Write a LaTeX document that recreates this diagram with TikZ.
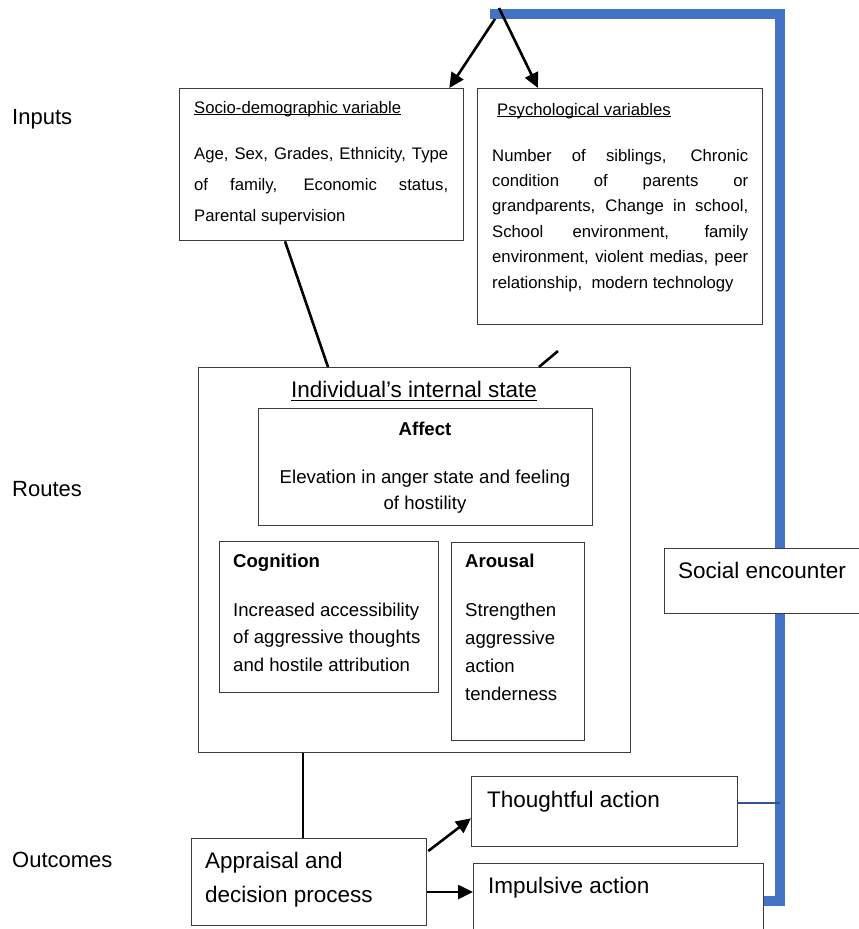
\documentclass[tikz,border=0pt]{standalone}
\usepackage{fontspec}
\setmainfont{Liberation Sans}
\usetikzlibrary{arrows.meta,calc}
\definecolor{blueline}{HTML}{4472C4}
\definecolor{thinblue}{HTML}{2F5597}
\definecolor{boxgray}{HTML}{3C3C3C}
\newcommand\myul[2][2.2pt]{\setbox0\hbox{#2}\rlap{\rule[-#1]{\wd0}{0.9pt}}\box0}
\newcommand\jl[2]{\makebox[#1][s]{#2}}
\newcommand\sz[2]{\fontsize{#1}{#2}\selectfont}
\begin{document}
\begin{tikzpicture}[x=1pt,y=-1pt,
  box/.style={draw=boxgray, line width=1.3pt, fill=white, inner sep=0pt, anchor=north west},
  conn/.style={line width=2.6pt, black},
  arr/.style={conn, -{Triangle[length=15pt,width=14pt]}},
  txt/.style={inner sep=0pt, anchor=base west},
  ctxt/.style={inner sep=0pt, anchor=base}]
\useasboundingbox (0,0) rectangle (859,929);
\clip (0,0) rectangle (859,929);
\fill[white] (0,0) rectangle (859,929);

% position helper for the blue loop end
\node[box, draw=none, fill=none, minimum width=290pt, minimum height=100pt] (impulsivepos) at (473,863) {};
\coordinate (btop) at (490,14);
% blue feedback loop
\draw[blueline, line width=10pt] (impulsivepos.east |- 0,901) -- (780,901) -- (780,14) -- (btop);

\node[box, minimum width=284pt, minimum height=152pt] (socio) at (179,88) {};
\node[box, minimum width=285pt, minimum height=236pt] (psych) at (477,88) {};
\node[box, minimum width=432pt, minimum height=385pt] (internal) at (198,367) {};
\node[box, minimum width=334pt, minimum height=117pt] (affect) at (258,408) {};
\node[box, minimum width=219pt, minimum height=151pt] (cognition) at (219,541) {};
\node[box, minimum width=133pt, minimum height=198pt] (arousal) at (451,542) {};
\node[box, minimum width=235pt, minimum height=87pt] (appraisal) at (191,838) {};
\node[box, minimum width=266pt, minimum height=70pt] (thought) at (471,776) {};
\node[box, minimum width=290pt, minimum height=100pt] (impulsive) at (473,863) {};
\node[box, minimum width=220pt, minimum height=65pt] (social) at (664,548) {};

% thin blue link
\draw[thinblue, line width=1.3pt] (thought.east |- 0,803) -- (780,803);

% side labels
\node[txt, font=\sz{22}{26}] (linputs) at (12,124) {Inputs};
\node[txt, font=\sz{22}{26}] (lroutes) at (12,496) {Routes};
\node[txt, font=\sz{22}{26}] (loutcomes) at (12,867) {Outcomes};

% socio-demographic
\node[txt, font=\sz{16.7}{20}] (sociot) at (194,113) {\myul{Socio-demographic variable}};
\node[txt] (sociob) at (194,159) {\parbox[t]{254pt}{\sz{16.7}{31}%
\jl{254pt}{Age, Sex, Grades, Ethnicity, Type}\\
\jl{254pt}{of family, Economic status,}\\
Parental supervision}};

% psychological
\node[txt, font=\sz{16.7}{20}] (psycht) at (497,115) {\myul{Psychological variables}};
\node[txt] (psychb) at (492,161) {\parbox[t]{256pt}{\sz{16.7}{25.4}%
\jl{256pt}{Number of siblings, Chronic}\\
\jl{256pt}{condition of parents or}\\
\jl{256pt}{grandparents, Change in school,}\\
\jl{256pt}{School environment, family}\\
\jl{256pt}{environment, violent medias, peer}\\
relationship,\ \ modern technology}};

% internal state
\node[ctxt, font=\sz{22.5}{26}] (internalt) at (414,397) {\myul[3.5pt]{Individual’s internal state}};
\node[ctxt, font=\sz{18.6}{22}\bfseries] (affectt) at (425,435) {Affect};
\node[ctxt] (affectb) at (425,483) {\parbox[t]{320pt}{\centering\sz{18.6}{26}%
Elevation in anger state and feeling\\ of hostility}};
\node[txt, font=\sz{18.6}{22}\bfseries] (cognitiont) at (233,567) {Cognition};
\node[txt] (cognitionb) at (233,616) {\parbox[t]{200pt}{\sz{18.6}{27.5}%
Increased accessibility\\ of aggressive thoughts\\ and hostile attribution}};
\node[txt, font=\sz{18.6}{22}\bfseries] (arousalt) at (465,567) {Arousal};
\node[txt] (arousalb) at (465,616) {\parbox[t]{115pt}{\sz{18.6}{28}%
Strengthen\\ aggressive\\ action\\ tenderness}};

% outcomes
\node[txt] (appraisalt) at (205,868) {\parbox[t]{215pt}{\sz{22.5}{34}%
Appraisal and\\ decision process}};
\node[txt, font=\sz{22.5}{26}] (thoughtt) at (487,807) {Thoughtful action};
\node[txt, font=\sz{22.5}{26}] (impulsivet) at (488,893) {Impulsive action};
\node[txt, font=\sz{22.5}{26}] (socialt) at (678,578) {Social encounter};

% connectors
\coordinate (apexL) at (495,19);
\coordinate (apexR) at (499,8);
\coordinate (pend) at (558,351);
\draw[arr] (apexL) -- ($(socio.north east)+(-15,0)$);
\draw[arr] (apexR) -- ($(psych.north west)+(61,0)$);
\draw[conn] ($(socio.south west)+(106,0)$) -- ($(internal.north west)+(130,0)$);
\draw[conn] (pend) -- ($(internal.north west)+(341,0)$);
\draw[conn] ($(internal.south west)+(105,0)$) -- ($(appraisal.north west)+(112,0)$);
\draw[arr] ($(appraisal.north east)+(1,13)$) -- ($(thought.south west)+(0,-29)$);
\draw[arr] ($(appraisal.north east)+(0,54)$) -- ($(impulsive.north west)+(0,29)$);
\end{tikzpicture}
\end{document}
